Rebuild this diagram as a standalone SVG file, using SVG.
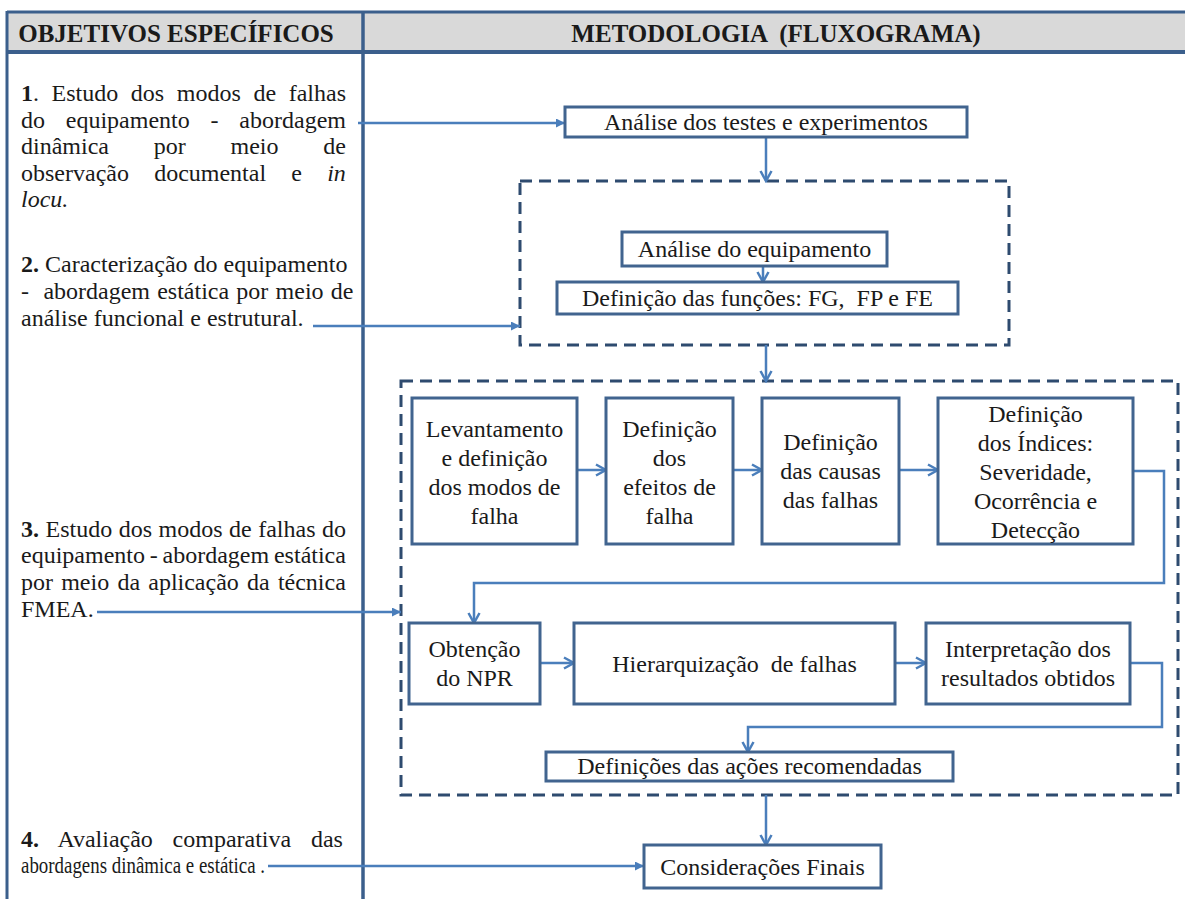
<svg xmlns="http://www.w3.org/2000/svg" width="1185" height="899" viewBox="0 0 1185 899">
<defs>
<style>
text{font-family:"Liberation Serif","Times New Roman",serif;font-size:24px;fill:#1a1a1a}
.hd{font-weight:bold;font-size:25px}
.c{text-anchor:middle}
.tbl{stroke:#3b5f8c;stroke-width:3;fill:none}
.box{fill:#fff;stroke:#41648f;stroke-width:3}
.dash{fill:none;stroke:#2e4b6f;stroke-width:3;stroke-dasharray:12 7}
.con{fill:none;stroke:#4a7ebb;stroke-width:2.5}
</style>
<marker id="ao" viewBox="0 0 14 14" refX="12" refY="7" markerWidth="14" markerHeight="14" markerUnits="userSpaceOnUse" orient="auto">
<path d="M2,1.5 L12,7 L2,12.5" fill="none" stroke="#4a7ebb" stroke-width="2.5"/>
</marker>
<marker id="af" viewBox="0 0 10 10" refX="10" refY="5" markerWidth="11" markerHeight="9" markerUnits="userSpaceOnUse" orient="auto">
<path d="M0,0 L10,5 L0,10 z" fill="#4a7ebb"/>
</marker>
</defs>
<rect width="1185" height="899" fill="#fff"/>

<g id="table">
<rect x="7" y="12" width="1178" height="40" fill="#d9d9d9"/>
<line class="tbl" x1="7" y1="12" x2="1185" y2="12"/>
<line class="tbl" x1="7" y1="52" x2="1185" y2="52" style="stroke-width:4"/>
<line class="tbl" x1="7" y1="11" x2="7" y2="899"/>
<line class="tbl" x1="363" y1="11" x2="363" y2="899" style="stroke-width:3.5"/>
<text class="hd" x="176" y="42" text-anchor="middle">OBJETIVOS ESPECÍFICOS</text>
<text class="hd" x="776" y="42" text-anchor="middle" xml:space="preserve">METODOLOGIA  (FLUXOGRAMA)</text>
</g>

<g id="objetivo1">
<text x="21" y="101" word-spacing="6.6"><tspan font-weight="bold">1</tspan>. Estudo dos modos de falhas</text>
<text x="21" y="128" word-spacing="14.8">do equipamento - abordagem</text>
<text x="21" y="154" word-spacing="38.8">dinâmica por meio de</text>
<text x="21" y="181" word-spacing="19.2">observação documental e <tspan font-style="italic">in</tspan></text>
<text x="21" y="207" font-style="italic">locu.</text>
</g>

<g id="objetivo2">
<text x="21" y="272"><tspan font-weight="bold">2.</tspan> Caracterização do equipamento</text>
<text x="21" y="299" word-spacing="1.2" xml:space="preserve">-  abordagem estática por meio de</text>
<text x="21" y="326">análise funcional e estrutural.</text>
</g>

<g id="objetivo3">
<text x="21" y="537" word-spacing="0.5"><tspan font-weight="bold">3.</tspan> Estudo dos modos de falhas do</text>
<text x="21" y="563" word-spacing="-1.2">equipamento - abordagem estática</text>
<text x="21" y="590" word-spacing="2.2">por meio da aplicação da técnica</text>
<text x="21" y="617">FMEA.</text>
</g>

<g id="objetivo4">
<text x="21" y="847" word-spacing="13.7"><tspan font-weight="bold">4.</tspan> Avaliação comparativa das</text>
<text x="21" y="873" textLength="244" lengthAdjust="spacingAndGlyphs">abordagens dinâmica e estática .</text>
</g>

<g id="grupo1">
<rect class="dash" x="520" y="181" width="489" height="164"/>
</g>
<g id="grupo2">
<rect class="dash" x="401" y="381" width="777" height="414"/>
</g>

<g id="connectors">
<line class="con" x1="358" y1="123" x2="565" y2="123" marker-end="url(#af)"/>
<line class="con" x1="313" y1="326" x2="520" y2="326" marker-end="url(#af)"/>
<line class="con" x1="97" y1="612" x2="401" y2="612" marker-end="url(#af)"/>
<line class="con" x1="268" y1="866" x2="644" y2="866" marker-end="url(#af)"/>
<line class="con" x1="766" y1="137" x2="766" y2="181" marker-end="url(#ao)"/>
<line class="con" x1="763" y1="266" x2="763" y2="282" marker-end="url(#ao)"/>
<line class="con" x1="766" y1="345" x2="766" y2="381" marker-end="url(#ao)"/>
<line class="con" x1="577" y1="470" x2="606" y2="470" marker-end="url(#ao)"/>
<line class="con" x1="733" y1="470" x2="762" y2="470" marker-end="url(#ao)"/>
<line class="con" x1="899" y1="470" x2="938" y2="470" marker-end="url(#ao)"/>
<polyline class="con" points="1133,471 1164,471 1164,583 474,583 474,623" marker-end="url(#ao)"/>
<line class="con" x1="540" y1="663" x2="574" y2="663" marker-end="url(#ao)"/>
<line class="con" x1="895" y1="663" x2="926" y2="663" marker-end="url(#ao)"/>
<polyline class="con" points="1130,663 1162,663 1162,727 748,727 748,752" marker-end="url(#ao)"/>
<line class="con" x1="766" y1="795" x2="766" y2="845" marker-end="url(#ao)"/>
</g>

<g id="n-testes">
<rect class="box" x="565" y="107" width="402" height="30"/>
<text class="c" x="766" y="130">Análise dos testes e experimentos</text>
</g>
<g id="n-equip">
<rect class="box" x="622" y="232" width="265" height="34"/>
<text class="c" x="754.5" y="257">Análise do equipamento</text>
</g>
<g id="n-funcoes">
<rect class="box" x="557" y="282" width="401" height="32"/>
<text class="c" x="757.5" y="306" xml:space="preserve">Definição das funções: FG,  FP e FE</text>
</g>
<g id="n-levantamento">
<rect class="box" x="412" y="398" width="165" height="146"/>
<text class="c" x="494.5" y="437">Levantamento</text>
<text class="c" x="494.5" y="466">e definição</text>
<text class="c" x="494.5" y="495">dos modos de</text>
<text class="c" x="494.5" y="524">falha</text>
</g>
<g id="n-efeitos">
<rect class="box" x="606" y="398" width="127" height="146"/>
<text class="c" x="669.5" y="437">Definição</text>
<text class="c" x="669.5" y="466">dos</text>
<text class="c" x="669.5" y="495">efeitos de</text>
<text class="c" x="669.5" y="524">falha</text>
</g>
<g id="n-causas">
<rect class="box" x="762" y="398" width="137" height="146"/>
<text class="c" x="830.5" y="450">Definição</text>
<text class="c" x="830.5" y="479">das causas</text>
<text class="c" x="830.5" y="508">das falhas</text>
</g>
<g id="n-indices">
<rect class="box" x="938" y="398" width="195" height="146"/>
<text class="c" x="1035.5" y="422">Definição</text>
<text class="c" x="1035.5" y="451">dos Índices:</text>
<text class="c" x="1035.5" y="480">Severidade,</text>
<text class="c" x="1035.5" y="509">Ocorrência e</text>
<text class="c" x="1035.5" y="538">Detecção</text>
</g>
<g id="n-npr">
<rect class="box" x="409" y="623" width="131" height="81"/>
<text class="c" x="474.5" y="657">Obtenção</text>
<text class="c" x="474.5" y="686">do NPR</text>
</g>
<g id="n-hierarquizacao">
<rect class="box" x="574" y="623" width="321" height="81"/>
<text class="c" x="734.5" y="672" xml:space="preserve">Hierarquização  de falhas</text>
</g>
<g id="n-interpretacao">
<rect class="box" x="926" y="623" width="204" height="81"/>
<text class="c" x="1028" y="657">Interpretação dos</text>
<text class="c" x="1028" y="686">resultados obtidos</text>
</g>
<g id="n-acoes">
<rect class="box" x="546" y="752" width="407" height="29"/>
<text class="c" x="749.5" y="774">Definições das ações recomendadas</text>
</g>
<g id="n-consideracoes">
<rect class="box" x="644" y="845" width="237" height="43"/>
<text class="c" x="762.5" y="875">Considerações Finais</text>
</g>
</svg>
